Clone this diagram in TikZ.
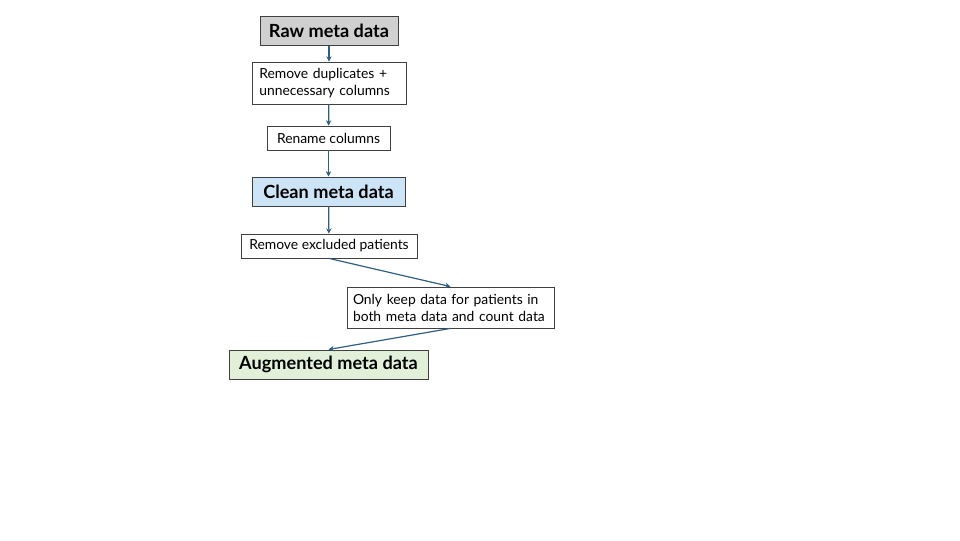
\documentclass[tikz,border=0pt]{standalone}
\usepackage{fontspec}
\setmainfont{Lato}
\usetikzlibrary{arrows.meta}
\definecolor{flowblue}{HTML}{2F5F80}
\definecolor{rawgray}{HTML}{D0D0D0}
\definecolor{cleanblue}{HTML}{CCE4F5}
\definecolor{augmgreen}{HTML}{E2F0D9}
\tikzset{
	dataset/.style={rectangle, draw=black!75, line width=0.75pt, font=\fontsize{13.6}{15}\selectfont\bfseries, inner sep=2pt, minimum height=21.75pt},
	stepbox/.style={rectangle, draw=black!75, line width=0.6pt, fill=white, font=\fontsize{10.4}{12.75}\selectfont, inner xsep=5.5pt, inner ysep=2pt, align=left},
	flow/.style={-{Stealth[length=4pt, width=4pt]}, draw=flowblue, line width=0.9pt}
}

\begin{document}
\begin{tikzpicture}[x=0.75pt, y=-0.75pt]
		\useasboundingbox (0,0) rectangle (960,540);
		
		% Data sets
		\node[dataset, fill=rawgray, minimum width=103.5pt] (Raw) at (329,30.5) {Raw meta data};
		\node[dataset, fill=cleanblue, minimum width=114.75pt] (Clean) at (328.5,191.5) {Clean meta data};
		\node[dataset, fill=augmgreen, minimum width=149.25pt] (Augm) at (328.5,364.5) {Augmented meta data};
		
		% Processing steps
		\node[stepbox, text width=104.5pt, minimum height=31.5pt] (Dupl) at (329,83) {Remove duplicates +\\unnecessary columns};
		\node[stepbox, minimum width=92.25pt, minimum height=18pt] (Rename) at (328.5,138) {Rename columns};
		\node[stepbox, minimum width=132pt, minimum height=18pt] (Excl) at (329,246) {Remove excluded patients};
		\node[stepbox, inner xsep=4.5pt, text width=146.25pt, minimum height=30.75pt] (Keep) at (450.5,307.5) {Only keep data for patients in\\both meta data and count data};
		
		% Edges
		\draw[flow] (Raw) -- (Dupl);         % Raw -> Dupl
		\draw[flow] (Dupl) -- (Rename);      % Dupl -> Rename
		\draw[flow] (Rename) -- (Clean);     % Rename -> Clean
		\draw[flow] (Clean) -- (Excl);       % Clean -> Excl
		\draw[flow] (Excl.south) -- (Keep.north);  % Excl -> Keep
		\draw[flow] (Keep.south) -- (Augm.north);  % Keep -> Augm
		
	\end{tikzpicture}
\end{document}
